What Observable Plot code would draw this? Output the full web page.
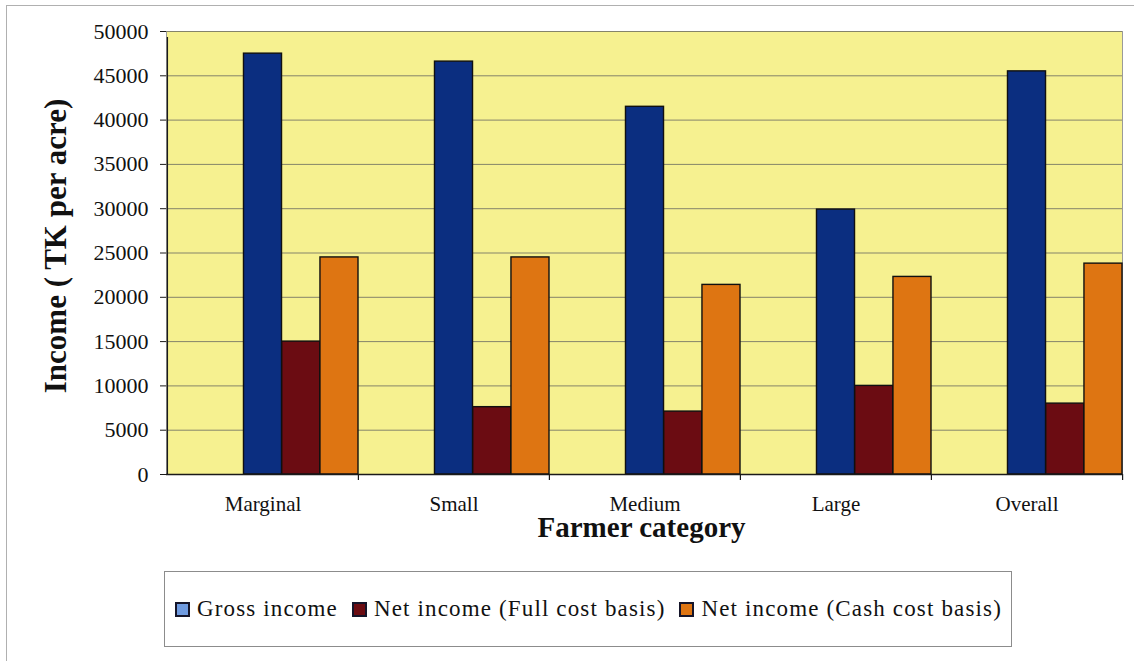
<!DOCTYPE html>
<html>
<head>
<meta charset="utf-8">
<script src="https://cdn.jsdelivr.net/npm/d3@7"></script>
<script src="https://cdn.jsdelivr.net/npm/@observablehq/plot@0.6"></script>
<style>
  html, body { margin: 0; padding: 0; background: #fff; }
  #wrap { position: relative; width: 1134px; height: 661px; overflow: hidden; background: #fff; font-family: "Liberation Serif", "Times New Roman", serif; }
  #border { position: absolute; left: 6px; top: 5px; right: -2px; bottom: -2px; border-left: 1px solid #b0b0b0; border-top: 1px solid #b0b0b0; }
  #chart { position: absolute; left: 0; top: 0; }
  #legend { position: absolute; left: 164px; top: 571px; width: 848px; height: 76px; box-sizing: border-box; border: 1px solid #8c8c8c; display: flex; align-items: center; padding-left: 10px; font-size: 23px; letter-spacing: 1.15px; color: #111; background: #fff; }
  .item { display: flex; align-items: center; margin-right: 14px; white-space: nowrap; }
  .sw { width: 15px; height: 15px; box-sizing: border-box; border: 2px solid #15152a; margin-right: 7px; }
</style>
</head>
<body>
<div id="wrap">
  <div id="border"></div>
  <div id="chart"></div>
  <div id="legend"></div>
</div>
<script>
// ---- data ----
const categories = ["Marginal", "Small", "Medium", "Large", "Overall"];
const series = ["Gross income", "Net income (Full cost basis)", "Net income (Cash cost basis)"];
const grossIncome = [47500, 46600, 41500, 29900, 45500];
const netIncomeFull = [15000, 7600, 7100, 10000, 8000];
const netIncomeCash = [24500, 24500, 21400, 22300, 23800];
const yTicks = [0, 5000, 10000, 15000, 20000, 25000, 30000, 35000, 40000, 45000, 50000];
const barColors = ["#0b2e80", "#6b0c12", "#de7512"];
const legendColors = ["#6f9be0", "#6b0c12", "#de7512"];
const xTitle = "Farmer category";
const yTitle = "Income ( TK per acre)";

const valuesBySeries = [grossIncome, netIncomeFull, netIncomeCash];
const rows = categories.flatMap((c, i) =>
  series.map((s, j) => ({category: c, series: s, value: valuesBySeries[j][i]}))
);

// ---- layout ----
const W = 1134, H = 560;
const mL = 166, mR = 12, mT = 31, mB = 86;
const bw = (W - mL - mR) / categories.length; // band width
const slot = bw / 5;                           // two empty slots + three bars

const yellow = "#f6f190";
const gridColor = "#85846a";
const dark = "#1a1a1a";

const barMarks = series.map((s, j) =>
  Plot.barY(rows.filter(r => r.series === s), {
    x: "category", y: "value",
    fill: barColors[j], stroke: "#101010", strokeWidth: 1.4,
    insetLeft: (2 + j) * slot, insetRight: (2 - j) * slot
  })
);

const chart = Plot.plot({
  width: W, height: H,
  marginLeft: mL, marginRight: mR, marginTop: mT, marginBottom: mB,
  style: {fontFamily: "'Liberation Serif', 'Times New Roman', serif", color: "#111", background: "transparent", overflow: "visible"},
  x: {domain: categories, padding: 0, axis: null},
  y: {domain: [0, 50000], axis: null},
  marks: [
    Plot.frame({fill: yellow, stroke: "#9a9a9a"}),
    Plot.gridY(yTicks, {stroke: gridColor, strokeOpacity: 1, strokeWidth: 1}),
    ...barMarks,
    Plot.ruleY([0], {stroke: dark, strokeWidth: 1.3}),
    // left axis line and category boundary ticks
    Plot.ruleX(categories.slice(0, 1), {x: d => d, y1: 0, y2: 50000, dx: -bw / 2, insetBottom: -6, stroke: dark, strokeWidth: 1.3}),
    Plot.ruleX(categories.slice(1), {x: d => d, y1: 0, y2: 0, dx: -bw / 2, insetBottom: -6, stroke: dark, strokeWidth: 1.2}),
    Plot.ruleX(categories.slice(-1), {x: d => d, y1: 0, y2: 0, dx: bw / 2, insetBottom: -6, stroke: dark, strokeWidth: 1.2}),
    Plot.axisY({ticks: yTicks, tickFormat: d => String(d), tickSize: 6, tickPadding: 12, fontSize: 22, letterSpacing: 0.8, label: null, stroke: dark}),
    Plot.axisX({tickSize: 0, tickPadding: 22, fontSize: 21, letterSpacing: 0.5, label: null}),
    Plot.text([xTitle], {text: d => d, frameAnchor: "bottom", dy: 42, dx: -3, lineAnchor: "top", fontWeight: "bold", fontSize: 29}),
    Plot.text([yTitle], {text: d => d, frameAnchor: "left", textAnchor: "middle", rotate: -90, dx: -123, dy: -7, lineAnchor: "top", fontWeight: "bold", fontSize: 31, letterSpacing: 0.3})
  ]
});
document.getElementById("chart").appendChild(chart);

// ---- legend ----
const legend = document.getElementById("legend");
series.forEach((s, j) => {
  const item = document.createElement("div");
  item.className = "item";
  const sw = document.createElement("div");
  sw.className = "sw";
  sw.style.background = legendColors[j];
  const label = document.createElement("span");
  label.textContent = s;
  item.appendChild(sw);
  item.appendChild(label);
  legend.appendChild(item);
});
</script>
</body>
</html>
